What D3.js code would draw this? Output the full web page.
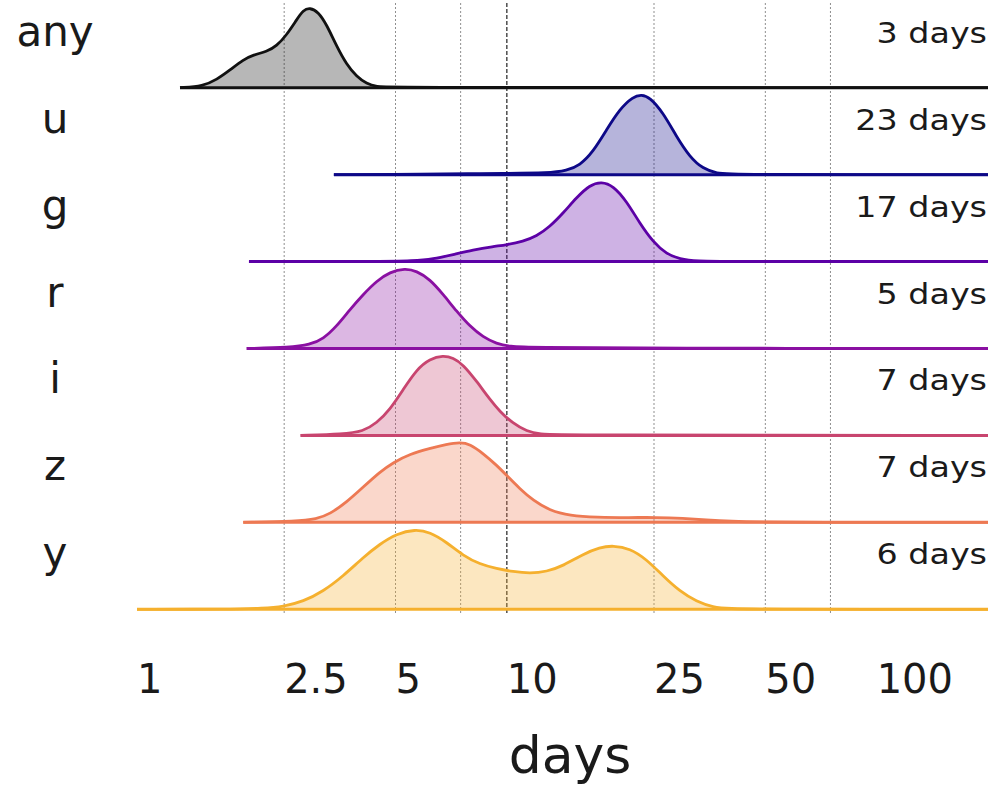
<!DOCTYPE html>
<html>
<head>
<meta charset="utf-8">
<script src="https://cdn.jsdelivr.net/npm/d3@7"></script>
<style>
  html, body { margin: 0; padding: 0; background: #fff; }
  svg { display: block; font-family: "DejaVu Sans", sans-serif; }
</style>
</head>
<body>
<svg id="chart" width="994" height="789"></svg>
<script>
// Rows of the ridgeline plot, top to bottom
const rows = ["any", "u", "g", "r", "i", "z", "y"];
const medianLabels = ["3 days", "23 days", "17 days", "5 days", "7 days", "7 days", "6 days"];
const lineColors = ["#111111", "#0d0887", "#5c01a6", "#8a10a2", "#c8456f", "#ed7953", "#f5b02e"];

// Density curves: [days, density relative to the row's peak]
const densAny = [[1.307,0],[1.511,0.02],[1.642,0.10],[1.784,0.22],[1.938,0.35],[2.062,0.41],[2.242,0.45],[2.385,0.52],[2.539,0.66],[2.702,0.85],[2.815,0.97],[2.935,1.0],[3.090,0.95],[3.256,0.79],[3.465,0.52],[3.688,0.29],[3.925,0.14],[4.177,0.05],[4.444,0.013],[4.829,0.004],[200,0]];
const densU = [[3.407,0],[6.193,0.004],[7.943,0.013],[9.574,0.015],[13.07,0.019],[14.50,0.05],[15.75,0.115],[17.11,0.285],[18.60,0.56],[20.20,0.82],[21.95,0.975],[23.12,1.0],[24.35,0.967],[26.45,0.775],[28.75,0.476],[31.23,0.221],[33.93,0.073],[36.88,0.017],[40.89,0],[200,0]];
const densG = [[2.008,0],[4.538,0],[5.581,0.009],[6.323,0.03],[7.158,0.086],[8.108,0.145],[9.183,0.188],[9.98,0.209],[11.07,0.253],[12.03,0.317],[13.07,0.436],[14.20,0.606],[15.43,0.80],[16.76,0.958],[18.03,1.0],[19.38,0.949],[21.07,0.756],[22.88,0.478],[24.86,0.244],[27.02,0.094],[29.35,0.03],[32.56,0.004],[40.06,0],[200,0]];
const densR = [[1.98,0],[2.592,0.013],[2.935,0.047],[3.188,0.12],[3.465,0.277],[3.764,0.487],[4.089,0.676],[4.444,0.844],[4.829,0.957],[5.301,1.0],[5.700,0.97],[6.193,0.865],[6.727,0.676],[7.312,0.466],[7.943,0.277],[8.627,0.142],[9.379,0.059],[10.19,0.025],[11.54,0.013],[24.35,0.004],[200,0]];
const densI = [[2.769,0],[3.611,0.016],[4.089,0.05],[4.444,0.154],[4.829,0.322],[5.245,0.573],[5.700,0.824],[6.193,0.957],[6.727,1.0],[7.158,0.97],[7.617,0.887],[8.284,0.678],[8.996,0.45],[9.574,0.30],[10.38,0.151],[11.33,0.05],[12.28,0.016],[13.91,0.004],[200,0]];
const densZ = [[1.938,0],[2.702,0.013],[3.060,0.042],[3.324,0.105],[3.688,0.252],[4.089,0.441],[4.538,0.631],[4.928,0.748],[5.469,0.854],[6.193,0.924],[6.871,0.975],[7.464,1.0],[7.943,0.98],[8.627,0.861],[9.379,0.715],[9.98,0.589],[10.84,0.42],[11.78,0.274],[13.07,0.148],[14.80,0.084],[17.48,0.063],[21.50,0.059],[25.39,0.063],[29.96,0.05],[34.65,0.029],[40.06,0.013],[50.43,0.004],[61.93,0],[200,0]];
const densY = [[1.0,0],[1.784,0],[2.195,0.013],[2.486,0.034],[2.815,0.098],[3.188,0.225],[3.611,0.416],[4.089,0.648],[4.538,0.817],[5.033,0.944],[5.640,1.0],[6.193,0.966],[6.871,0.839],[7.617,0.67],[8.453,0.563],[9.379,0.508],[10.40,0.47],[11.54,0.449],[12.81,0.47],[14.20,0.543],[16.08,0.69],[17.84,0.775],[19.38,0.797],[21.50,0.762],[23.85,0.626],[26.45,0.416],[29.35,0.225],[32.56,0.098],[36.11,0.025],[40.06,0.009],[48.29,0],[200,0]];
const densities = [densAny, densU, densG, densR, densI, densZ, densY];

// Axis: tick labels, dotted reference lines and the dashed 10-day line
const tickValues = [1, 2.5, 5, 10, 25, 50, 100];
const tickLabels = ["1", "2.5", "5", "10", "25", "50", "100"];
const gridValues = [2.5, 5, 7.5, 25, 50, 75];
const dashedValue = 10;
const xLabel = "days";

const svg = d3.select("#chart");
const W = 994, H = 789;
svg.append("rect").attr("width", W).attr("height", H).attr("fill", "#fff");

const x = d3.scaleLog().domain([1, 200]).range([137, 988]);
const rowY = d3.scalePoint().domain(rows).range([87.7, 609.3]);
const h = d3.scaleLinear().domain([0, 1]).range([0, 80]);

const gridTop = 3, gridBottom = 613;

// reference lines
svg.append("g").selectAll("line").data(gridValues).join("line")
  .attr("x1", d => x(d)).attr("x2", d => x(d))
  .attr("y1", gridTop).attr("y2", gridBottom)
  .attr("stroke", "#8f8f8f").attr("stroke-width", 1)
  .attr("stroke-dasharray", "2,2");
svg.append("line")
  .attr("x1", x(dashedValue)).attr("x2", x(dashedValue))
  .attr("y1", gridTop).attr("y2", gridBottom)
  .attr("stroke", "#333").attr("stroke-width", 1.3)
  .attr("stroke-dasharray", "4,2");

// ridges
rows.forEach((name, i) => {
  const base = rowY(name);
  const data = densities[i];
  const color = lineColors[i];
  const area = d3.area()
    .x(d => x(d[0]))
    .y0(base)
    .y1(d => base - h(d[1]))
    .curve(d3.curveBasis);
  const line = d3.line()
    .x(d => x(d[0]))
    .y(d => base - h(d[1]))
    .curve(d3.curveBasis);
  const g = svg.append("g");
  g.append("path").attr("d", area(data))
    .attr("fill", color).attr("fill-opacity", 0.3);
  g.append("line")
    .attr("x1", x(data[0][0])).attr("x2", x(data[data.length - 1][0]))
    .attr("y1", base).attr("y2", base)
    .attr("stroke", color).attr("stroke-width", 3);
  g.append("path").attr("d", line(data))
    .attr("fill", "none").attr("stroke", color)
    .attr("stroke-width", 2.8).attr("stroke-linejoin", "round");

  // row name on the left
  svg.append("text")
    .attr("x", 55).attr("y", base - 42)
    .attr("text-anchor", "middle")
    .attr("font-size", 42).attr("fill", "#1a1a1a")
    .text(name);
  // median label on the right
  svg.append("text")
    .attr("transform", `translate(987,${base - 45}) scale(1.15,1)`)
    .attr("text-anchor", "end")
    .attr("font-size", 29).attr("fill", "#1a1a1a")
    .text(medianLabels[i]);
});

// tick labels (left-aligned at their value)
svg.append("g").selectAll("text").data(tickValues).join("text")
  .attr("x", d => x(d)).attr("y", 693)
  .attr("text-anchor", "start")
  .attr("font-size", 40).attr("fill", "#1a1a1a")
  .text((d, i) => tickLabels[i]);

// axis title
svg.append("text")
  .attr("x", 570).attr("y", 773)
  .attr("text-anchor", "middle")
  .attr("font-size", 52).attr("fill", "#1a1a1a")
  .text(xLabel);
</script>
</body>
</html>
